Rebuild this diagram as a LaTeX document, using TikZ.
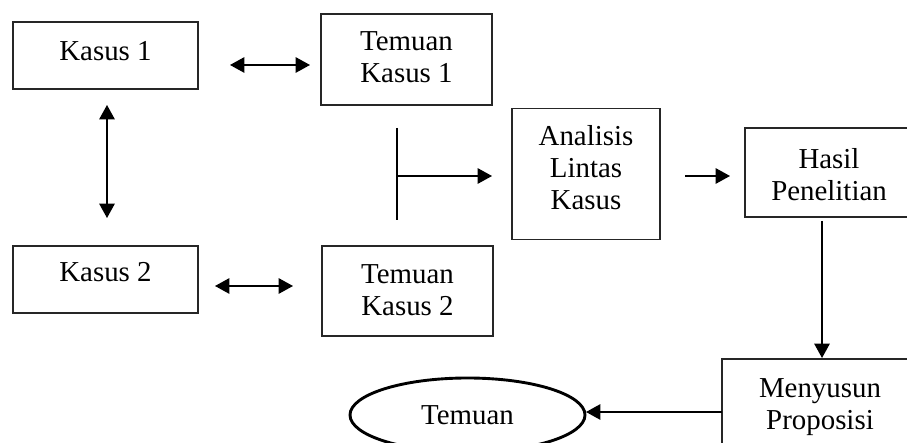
\documentclass[tikz,border=0pt]{standalone}
\usepackage{fontspec}
\setmainfont{Liberation Serif}
\usetikzlibrary{arrows.meta,shapes.geometric}
\begin{document}
\begin{tikzpicture}[x=0.45pt,y=-0.45pt,
  box/.style={draw=black!85,line width=0.65pt,minimum width=#1,inner sep=0pt},
  txt/.style={align=center,inner sep=0pt,font=\fontsize{13}{14.4}\selectfont},
  conn/.style={line width=0.65pt,-{Triangle[length=6.5pt,width=7pt]}},
  dconn/.style={line width=0.65pt,{Triangle[length=6.5pt,width=7pt]}-{Triangle[length=6.5pt,width=7pt]}},
  plain/.style={line width=0.65pt}]
\useasboundingbox (0,0) rectangle (907,443);
\clip (0,0) rectangle (907,443);
% boxes
\node[box=185*0.45pt,minimum height=67*0.45pt] (k1) at (105.5,55.5) {};
\node[box=171*0.45pt,minimum height=91*0.45pt] (t1) at (406.5,59.5) {};
\node[box=185*0.45pt,minimum height=67*0.45pt] (k2) at (105.5,279.5) {};
\node[box=171*0.45pt,minimum height=90*0.45pt] (t2) at (407.5,291) {};
\node[box=148*0.45pt,minimum height=131*0.45pt] (an) at (586,174) {};
\node[box=168*0.45pt,minimum height=89*0.45pt] (ha) at (829,172.5) {};
\node[box=196*0.45pt,minimum height=101*0.45pt] (me) at (820,409.5) {};
\node[draw,ellipse,line width=1.3pt,minimum width=235*0.45pt,minimum height=74*0.45pt,inner sep=0pt] (el) at (467.5,415) {};
% texts
\node[txt] (k1t) at (105.5,51) {Kasus 1};
\node[txt] (t1t) at (406.5,57.5) {Temuan\\Kasus 1};
\node[txt] (k2t) at (105.5,272) {Kasus 2};
\node[txt] (t2t) at (407.5,290) {Temuan\\Kasus 2};
\node[txt] (ant) at (586,168) {Analisis\\Lintas\\Kasus};
\node[txt] (hat) at (829,174.5) {Hasil\\Penelitian};
\node[txt] (met) at (820,407.5) {Menyusun\\Proposisi};
\node[txt] (elt) at (467.5,415) {Temuan};
% connector end points
\coordinate (a1) at (230,65);  \coordinate (a2) at (310,65);
\coordinate (b1) at (107,105); \coordinate (b2) at (107,218);
\coordinate (c1) at (215,286); \coordinate (c2) at (293,286);
\coordinate (v1) at (397,128); \coordinate (v2) at (397,220);
\coordinate (h1) at (397,176); \coordinate (h2) at (492,176);
\coordinate (d1) at (685,176); \coordinate (d2) at (730,176);
\coordinate (e1) at (822,221); \coordinate (e2) at (822,358);
\coordinate (f1) at (722,412); \coordinate (f2) at (586,412);
% connectors
\draw[dconn] (a1) -- (a2);
\draw[dconn] (b1) -- (b2);
\draw[dconn] (c1) -- (c2);
\draw[plain] (v1) -- (v2);
\draw[conn] (h1) -- (h2);
\draw[conn] (d1) -- (d2);
\draw[conn] (e1) -- (e2);
\draw[conn] (f1) -- (f2);
\end{tikzpicture}
\end{document}
